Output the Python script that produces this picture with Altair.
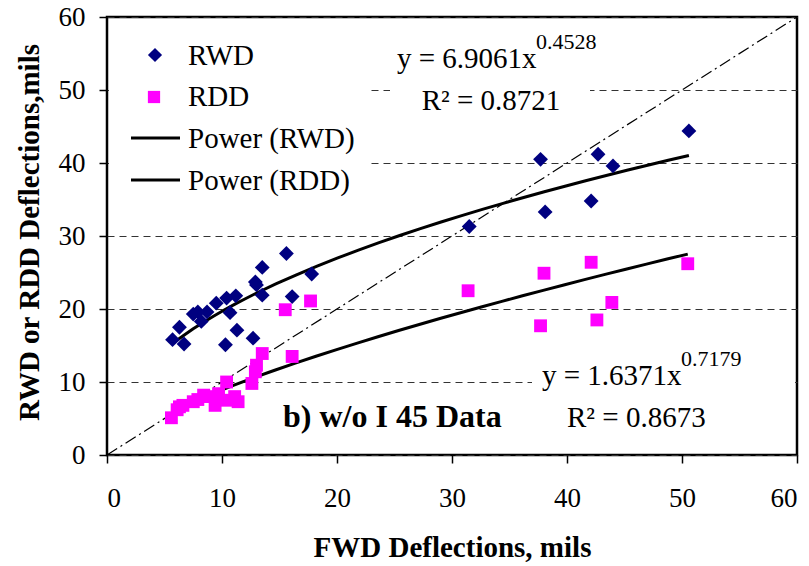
import altair as alt
import pandas as pd

# ---- data ----
rwd_x = [5.7, 6.3, 6.7, 7.5, 7.9, 8.2, 8.7, 9.5, 10.3, 10.4, 10.7, 11.2, 11.3, 12.7,
         12.9, 13.0, 13.5, 13.5, 15.6, 16.1, 17.8, 31.5, 37.7, 38.1, 42.1, 42.7, 44.0, 50.6]
rwd_y = [15.8, 17.5, 15.2, 19.3, 19.6, 18.3, 19.6, 20.8, 15.1, 21.5, 19.5, 21.8, 17.1, 16.0,
         23.7, 23.3, 21.9, 25.7, 27.6, 21.7, 24.8, 31.3, 40.5, 33.3, 34.8, 41.2, 39.6, 44.4]
rdd_x = [5.6, 6.1, 6.3, 6.6, 7.5, 7.9, 8.4, 8.7, 9.4, 9.7, 10.4, 10.4, 11.1, 11.4, 12.6,
         12.9, 13.0, 13.5, 15.5, 16.1, 17.7, 31.4, 37.7, 38.0, 42.1, 42.6, 43.9, 50.5]
rdd_y = [5.1, 6.2, 6.6, 6.8, 7.3, 7.6, 8.2, 8.0, 6.8, 8.4, 10.0, 7.5, 8.0, 7.3, 9.8,
         11.4, 12.3, 13.9, 19.9, 13.5, 21.1, 22.5, 17.7, 24.9, 26.4, 18.5, 20.9, 26.2]
diag_vals = [0, 60]
axis_ticks = [0, 10, 20, 30, 40, 50, 60]

FONT = "Liberation Serif"
FS = 29

rwd = pd.DataFrame({"x": rwd_x, "y": rwd_y, "series": "RWD"})
rdd = pd.DataFrame({"x": rdd_x, "y": rdd_y, "series": "RDD"})
pts = pd.concat([rwd, rdd], ignore_index=True)
diag = pd.DataFrame({"x": diag_vals, "y": diag_vals})

xs = alt.Scale(domain=[0, 60], nice=False, zero=False)
ys = alt.Scale(domain=[0, 60], nice=False, zero=False)

x_axis = alt.Axis(values=axis_ticks, grid=False, domain=False, tickSize=8, tickColor="black",
                  tickWidth=1.5, labelFont=FONT, labelFontSize=27, labelColor="black",
                  labelPadding=22, title="FWD Deflections, mils", titleFont=FONT,
                  titleFontSize=29, titleFontWeight="bold", titleColor="black",
                  titleY=92, titleBaseline="middle")
y_axis = alt.Axis(values=axis_ticks, grid=True, gridDash=[7, 5], gridColor="#333333",
                  gridWidth=1, domain=False, tickSize=8, tickColor="black", tickWidth=1.5,
                  labelFont=FONT, labelFontSize=27, labelColor="black", labelPadding=14,
                  title="RWD or RDD Deflections,mils", titleFont=FONT, titleFontSize=29,
                  titleFontWeight="bold", titleColor="black", titleAngle=-90,
                  titleX=-78, titleY=215, titleAlign="center", titleBaseline="middle")

X = alt.X("x:Q", scale=xs, axis=x_axis)
Y = alt.Y("y:Q", scale=ys, axis=y_axis)

one = pd.DataFrame({"a": [0]})

def box(x1, x2, y1, y2):
    return alt.Chart(one).mark_rect(color="white").encode(
        x=alt.value(x1), x2=alt.value(x2), y=alt.value(y1), y2=alt.value(y2))

def txt(s, x, y, size=FS, weight="normal", align="left"):
    return alt.Chart(one).mark_text(text=s, font=FONT, fontSize=size, fontWeight=weight,
                                    align=align, baseline="alphabetic", color="black").encode(
        x=alt.value(x), y=alt.value(y))

diag_line = alt.Chart(diag).mark_line(color="black", strokeWidth=1.2,
                                      strokeDash=[12, 4, 2, 4]).encode(x=X, y=Y)

fit = alt.Chart(pts).transform_regression(
    "x", "y", method="pow", groupby=["series"]
).mark_line(color="black", strokeWidth=3).encode(x=X, y=Y, detail="series:N")

rwd_pts = alt.Chart(rwd).mark_point(shape="diamond", filled=True, color="#000080",
                                     size=220, opacity=1).encode(x=X, y=Y)
rdd_pts = alt.Chart(rdd).mark_point(shape="square", filled=True, color="#FF00FF",
                                     size=165, opacity=1).encode(x=X, y=Y)

# legend (manual)
leg_d = alt.Chart(one).mark_point(shape="diamond", filled=True, color="#000080", size=200,
                                  opacity=1).encode(x=alt.value(48), y=alt.value(38))
leg_s = alt.Chart(one).mark_point(shape="square", filled=True, color="#FF00FF", size=150,
                                  opacity=1).encode(x=alt.value(47), y=alt.value(80))
leg_l1 = alt.Chart(one).mark_rule(color="black", strokeWidth=3).encode(
    x=alt.value(24), x2=alt.value(73), y=alt.value(121))
leg_l2 = alt.Chart(one).mark_rule(color="black", strokeWidth=3).encode(
    x=alt.value(24), x2=alt.value(73), y=alt.value(163))

layers = [
    box(2, 261, 2, 188),
    box(283, 483, 18, 106),
    box(425, 688, 331, 428),
    diag_line, fit, rwd_pts, rdd_pts,
    leg_d, leg_s, leg_l1, leg_l2,
    txt("RWD", 81, 48), txt("RDD", 81, 89),
    txt("Power (RWD)", 81, 131), txt("Power (RDD)", 81, 173),
    txt("y = 6.9061x", 290, 51), txt("0.4528", 429, 32, size=22),
    txt("R² = 0.8721", 384, 93, align="center"),
    txt("y = 1.6371x", 435, 368), txt("0.7179", 574, 349, size=22),
    txt("R² = 0.8673", 460, 410),
    txt("b) w/o I 45 Data", 176, 410, size=32, weight="bold"),
]

chart = alt.layer(*layers).properties(
    width=690, height=438,
    autosize=alt.AutoSizeParams(type="none"),
    padding={"left": 107, "top": 17, "right": 12, "bottom": 111},
    background="white",
).configure_view(stroke="black", strokeWidth=2.5)

chart.save("out.html", embed_options={"renderer": "svg", "actions": False})
